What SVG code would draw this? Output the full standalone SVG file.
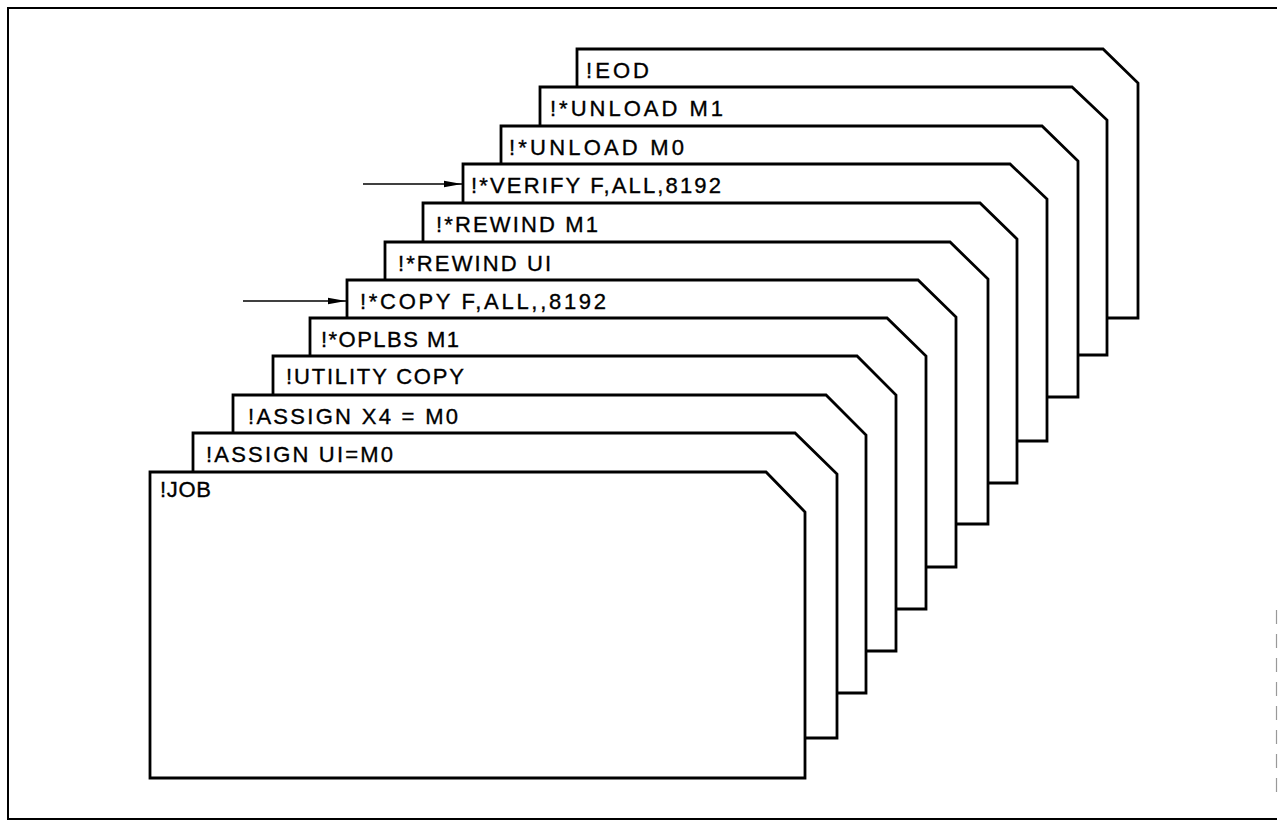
<svg xmlns="http://www.w3.org/2000/svg" width="1278" height="827" viewBox="0 0 1278 827">
<style>
.card{fill:#fff;stroke:#000;stroke-width:2.8;stroke-linejoin:miter}
.lbl{font-family:"Liberation Sans",Arial,sans-serif;font-size:22px;fill:#000;stroke:#000;stroke-width:0.35}
.frame{fill:none;stroke:#000;stroke-width:2}
.arrow{stroke:#000;stroke-width:1.6;fill:none}
</style>
<defs>
<marker id="ah" viewBox="0 0 18 8" refX="18" refY="4" markerWidth="18" markerHeight="8" markerUnits="userSpaceOnUse" orient="auto">
<path d="M0,0.8 L18,4 L0,7.2 Z" fill="#000"/>
</marker>
</defs>
<rect width="1278" height="827" fill="#fff"/>
<path class="frame" d="M1277,8 L8,8 L8,819 L1277,819"/>
<line x1="1276.5" y1="610" x2="1276.5" y2="800" stroke="#999" stroke-width="1.2" stroke-dasharray="14,10"/>

<g id="card-eod"><path class="card" d="M577,318 L577,49 L1103,49 L1138,83 L1138,318 Z"/><text class="lbl" x="586" y="77.5" textLength="63" lengthAdjust="spacing">!EOD</text></g>
<g id="card-unload-m1"><path class="card" d="M540,355 L540,87 L1072,87 L1107,120 L1107,355 Z"/><text class="lbl" x="550" y="115.5" textLength="173" lengthAdjust="spacing">!*UNLOAD M1</text></g>
<g id="card-unload-m0"><path class="card" d="M501,397 L501,126 L1042,126 L1078,161 L1078,397 Z"/><text class="lbl" x="509" y="154.5" textLength="175" lengthAdjust="spacing">!*UNLOAD M0</text></g>
<g id="card-verify"><path class="card" d="M463,441 L463,164 L1010,164 L1047,199 L1047,441 Z"/><text class="lbl" x="471" y="192.5" textLength="250" lengthAdjust="spacing">!*VERIFY F,ALL,8192</text></g>
<g id="card-rewind-m1"><path class="card" d="M423,483 L423,203 L980,203 L1017,239 L1017,483 Z"/><text class="lbl" x="436" y="231.5" textLength="162" lengthAdjust="spacing">!*REWIND M1</text></g>
<g id="card-rewind-ui"><path class="card" d="M385,524 L385,242 L950,242 L988,279 L988,524 Z"/><text class="lbl" x="398" y="270.5" textLength="153" lengthAdjust="spacing">!*REWIND UI</text></g>
<g id="card-copy"><path class="card" d="M347,567 L347,280 L918,280 L956,317 L956,567 Z"/><text class="lbl" x="360" y="308.5" textLength="246" lengthAdjust="spacing">!*COPY F,ALL,,8192</text></g>
<g id="card-oplbs"><path class="card" d="M310,609 L310,318 L887,318 L926,356 L926,609 Z"/><text class="lbl" x="321" y="346.5" textLength="138" lengthAdjust="spacing">!*OPLBS M1</text></g>
<g id="card-utility"><path class="card" d="M273,651 L273,356 L857,356 L896,395 L896,651 Z"/><text class="lbl" x="286" y="384" textLength="178" lengthAdjust="spacing">!UTILITY COPY</text></g>
<g id="card-assign-x4"><path class="card" d="M233,693 L233,395 L826,395 L866,435 L866,693 Z"/><text class="lbl" x="248" y="423.5" textLength="210" lengthAdjust="spacing">!ASSIGN X4 = M0</text></g>
<g id="card-assign-ui"><path class="card" d="M193,738 L193,433 L795,433 L837,474 L837,738 Z"/><text class="lbl" x="206" y="461.5" textLength="187" lengthAdjust="spacing">!ASSIGN UI=M0</text></g>
<g id="card-job"><path class="card" d="M150,778 L150,472 L766,472 L805,512 L805,778 Z"/><text class="lbl" x="160" y="497" textLength="51" lengthAdjust="spacing">!JOB</text></g>

<g id="connectors">
<line class="arrow" x1="363" y1="184" x2="462" y2="184" marker-end="url(#ah)"/>
<line class="arrow" x1="243" y1="301" x2="346" y2="301" marker-end="url(#ah)"/>
</g>
</svg>
